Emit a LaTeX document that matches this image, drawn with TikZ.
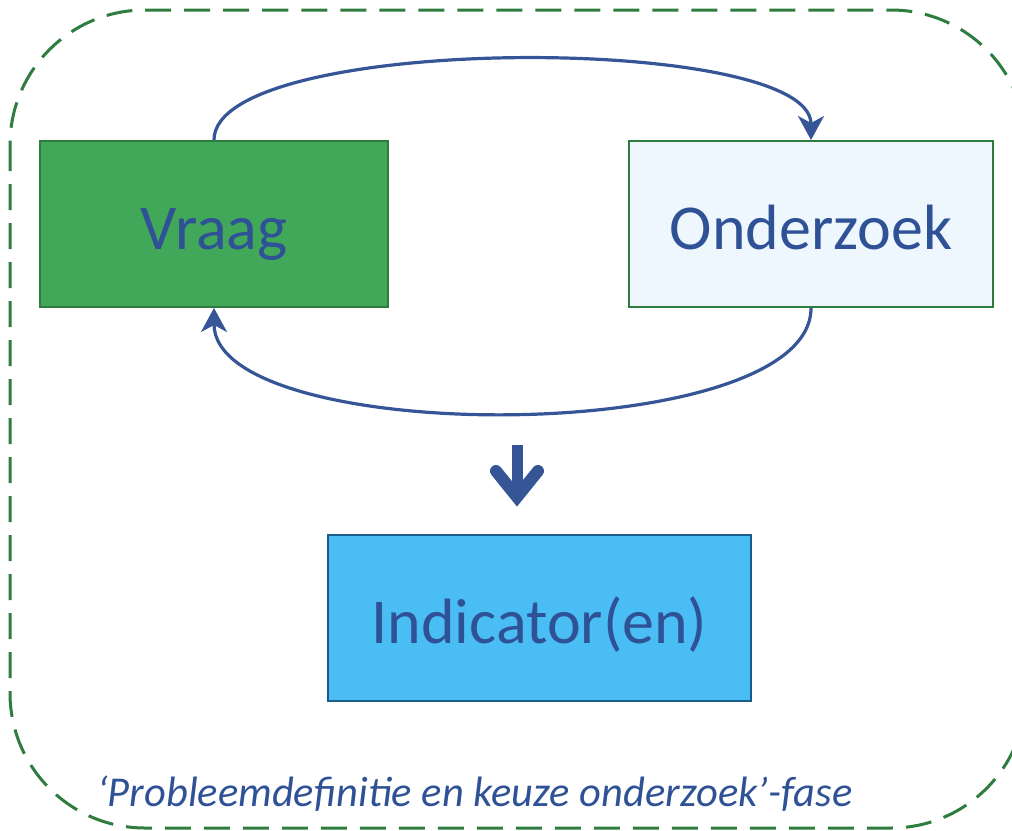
\documentclass[tikz,border=0pt]{standalone}
\usepackage{fontspec}
\setmainfont{Carlito}
\usetikzlibrary{arrows.meta}
\definecolor{fasegroen}{RGB}{46,125,62}
\definecolor{vraaggroen}{RGB}{65,168,90}
\definecolor{lichtblauw}{RGB}{238,246,254}
\definecolor{indblauw}{RGB}{75,189,245}
\definecolor{randblauw}{RGB}{24,92,138}
\definecolor{tekstblauw}{RGB}{47,82,150}
\definecolor{pijlblauw}{RGB}{53,85,151}
\tikzset{
  blok/.style={draw, line width=2pt, minimum width=348pt, minimum height=166pt,
    inner sep=0pt, text height=50pt, text depth=0pt,
    text=tekstblauw, font=\fontsize{64}{64}\selectfont},
  lus/.style={draw=pijlblauw, line width=3.2pt,
    -{Stealth[length=24pt,width=26pt,inset=7pt]}},
}
\begin{document}
\begin{tikzpicture}[x=1pt,y=-1pt]
				%%%%% START %%%%%
				\def\breed{1012}
				\def\hoog{830}
				\clip (0,0) rectangle (\breed,\hoog);

				% fase-kader
				\draw[fasegroen, line width=3pt, dash pattern=on 26pt off 13pt, rounded corners=135pt]
					(10,10) rectangle (1026,828);

				\node[blok, fill=vraaggroen, draw=fasegroen] (vraag) at (214,224) {Vraag};
				\node[blok, fill=lichtblauw, draw=fasegroen, minimum width=364pt] (onderzoek) at (811,224) {Onderzoek};
				\node[blok, fill=indblauw, draw=randblauw, minimum width=423pt] (indicator) at (539.5,618) {Indicator(en)};

				\draw[lus] (vraag.north) to[out=90, in=90, looseness=0.46] (onderzoek.north);
				\draw[lus] (onderzoek.south) to[out=-90, in=-90, looseness=0.6] (vraag.south);

				% pijl naar beneden
				\coordinate (pijltop) at (517,445);
				\coordinate (pijlpunt) at (517,497);
				\draw[pijlblauw, line width=11pt] (pijltop) -- (pijlpunt);
				\draw[pijlblauw, line width=12pt, line cap=round, line join=miter]
					(496,471) -- (pijlpunt) -- (538,471);

				\node[anchor=base west, inner sep=0pt, text=tekstblauw,
					font=\fontsize{42.5}{42.5}\selectfont\itshape] (fase) at (97,806)
					{‘Probleemdefinitie en keuze onderzoek’-fase};
				%%%%% START %%%%%
\end{tikzpicture}
\end{document}
